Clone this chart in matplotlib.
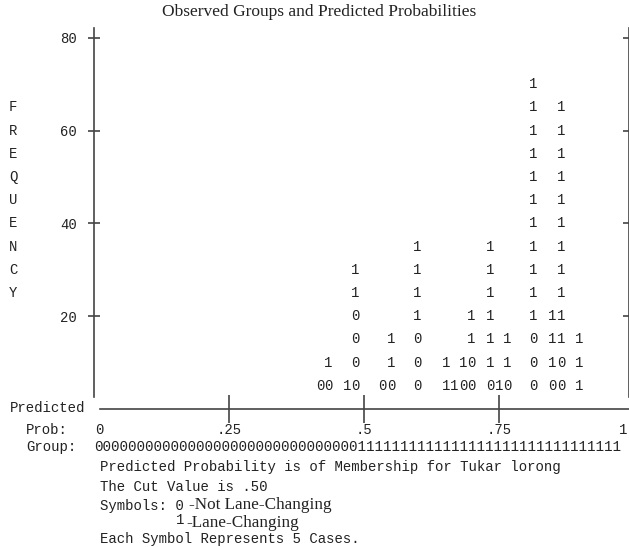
import matplotlib.pyplot as plt

# classification plot: predicted probability of each symbol column and the
# symbols stacked in that column from the bottom up (each symbol = 5 cases)
col_prob = [0.419, 0.433, 0.469, 0.483, 0.533, 0.550, 0.598, 0.652, 0.667,
            0.683, 0.698, 0.733, 0.750, 0.765, 0.813, 0.848, 0.865, 0.898]
col_symbols = ['0', '01', '1', '000011', '0', '011', '0001111', '11', '1',
               '01', '0011', '0111111', '1', '011', '00011111111111', '0111',
               '0011111111111', '111']
cases_per_symbol = 5
freq_ticks = [20, 40, 60, 80]
prob_ticks = [0.25, 0.5, 0.75]
prob_labels = ['.25', '.5', '.75']
group_line = '0' * 31 + '1' * 31

MONO = 'Liberation Mono'
SERIF = 'Liberation Serif'
INK = '#222222'
LINE = '#444444'

W, H = 629, 547
fig = plt.figure(figsize=(W / 100, H / 100), dpi=100)
fig.patch.set_facecolor('white')


def ftext(x, y, s, **kw):
    # text placed in figure pixels (from top-left)
    kw.setdefault('family', MONO)
    kw.setdefault('fontsize', 10.1)
    kw.setdefault('color', INK)
    kw.setdefault('va', 'center')
    fig.text(x / W, 1 - y / H, s, **kw)


ax = fig.add_axes([94 / W, (H - 409) / H, 535 / W, 381 / H])
ax.set_xlim(0, 535 / 540)
ax.set_ylim(0, 381 / 4.64)
ax.set_facecolor('none')

# frame
ax.spines['top'].set_visible(False)
for side in ['left', 'right', 'bottom']:
    ax.spines[side].set_color(LINE)
    ax.spines[side].set_linewidth(1.2)
ax.spines['left'].set_bounds(2.6, 381 / 4.64)
ax.spines['right'].set_bounds(2.6, 381 / 4.64)
ax.spines['bottom'].set_bounds(6 / 540, 535 / 540)

ax.set_yticks(freq_ticks)
ax.set_yticklabels([str(v) for v in freq_ticks])
ax.yaxis.set_ticks_position('both')
ax.tick_params(axis='y', direction='inout', length=9, width=1.2, color=LINE,
               labelsize=10, labelcolor=INK, labelfontfamily=MONO, pad=8)
ax.set_xticks(prob_ticks)
ax.set_xticklabels([])
ax.tick_params(axis='x', direction='inout', length=20, width=1.2, color=LINE)

# symbols
for p, stack in zip(col_prob, col_symbols):
    for k, ch in enumerate(stack):
        ax.text(p, cases_per_symbol * (k + 1), ch, ha='center', va='center',
                family=MONO, fontsize=10, color=INK)

# vertical FREQUENCY label
for i, ch in enumerate('FREQUENCY'):
    ax.text(-0.151, 65 - 5 * i, ch, transform=ax.get_yaxis_transform(),
            ha='center', va='center', family=MONO, fontsize=10, color=INK)

# probability labels under the axis
xt = ax.get_xaxis_transform()
for p, lab in zip([0.01] + prob_ticks + [0.98], ['0'] + prob_labels + ['1']):
    ax.text(p, -0.055, lab, transform=xt, ha='center', va='center',
            family=MONO, fontsize=10, color=INK, clip_on=False)

ftext(319, 12, 'Observed Groups and Predicted Probabilities', family=SERIF,
      fontsize=12.5, ha='center')
ftext(10, 408, 'Predicted')
ftext(26, 430, 'Prob:')
ftext(26, 447, 'Group:')
ftext(94, 447, group_line, fontsize=10.3)
ftext(100, 467, 'Predicted Probability is of Membership for Tukar lorong')
ftext(100, 487, 'The Cut Value is .50')
ftext(100, 506, 'Symbols: 0')
ftext(189, 505, '-Not Lane-Changing', family=SERIF, fontsize=12.3)
ftext(176, 520, '1')
ftext(186, 523, '-Lane-Changing', family=SERIF, fontsize=12.3)
ftext(100, 539, 'Each Symbol Represents 5 Cases.')

fig.savefig('out.png', dpi=100)
